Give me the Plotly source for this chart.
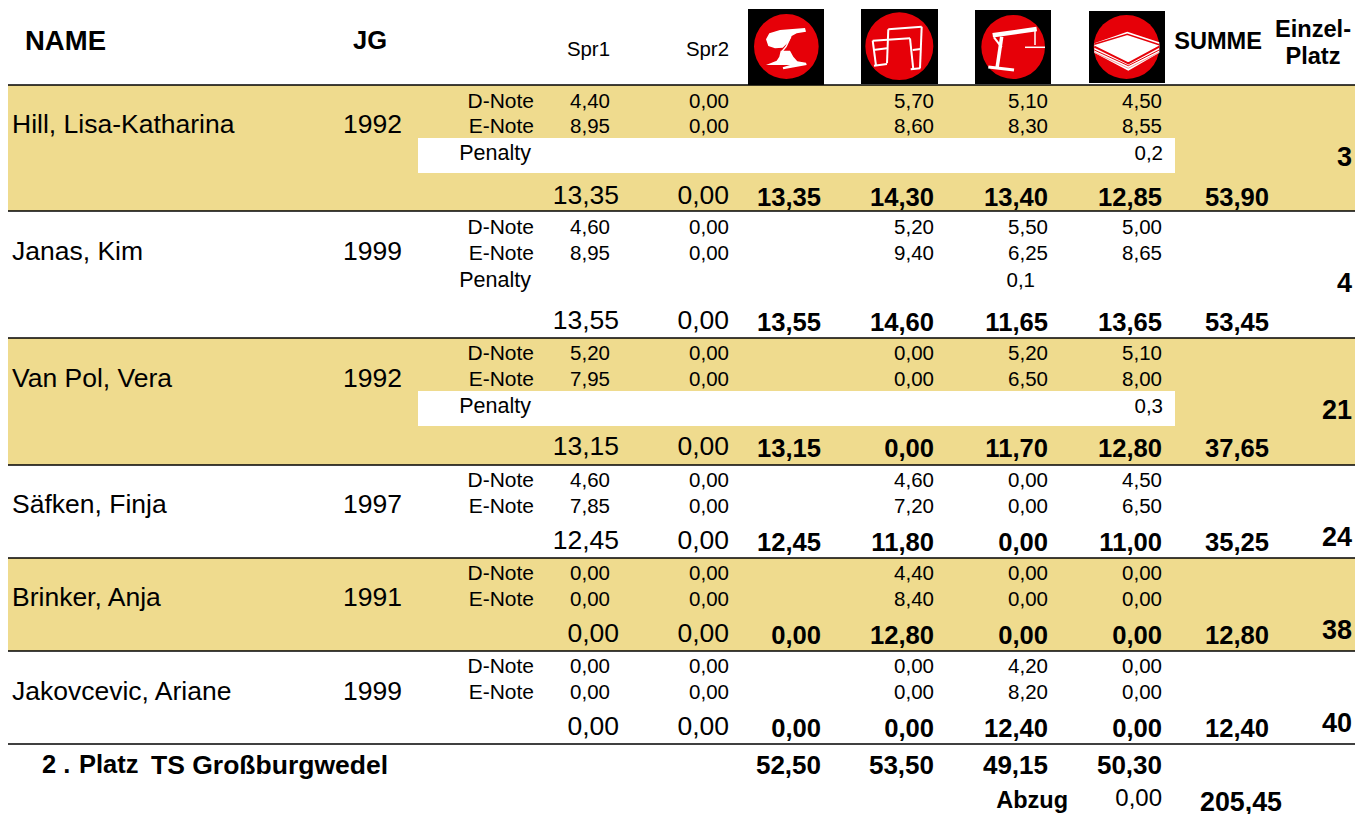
import plotly.graph_objects as go

# ---------- data ----------
names = ["Hill, Lisa-Katharina", "Janas, Kim", "Van Pol, Vera", "Säfken, Finja", "Brinker, Anja", "Jakovcevic, Ariane"]
years = ["1992", "1999", "1992", "1997", "1991", "1999"]
ranks = ["3", "4", "21", "24", "38", "40"]
sums = ["53,90", "53,45", "37,65", "35,25", "12,80", "12,40"]

d_spr1 = ["4,40", "4,60", "5,20", "4,60", "0,00", "0,00"]
d_spr2 = ["0,00", "0,00", "0,00", "0,00", "0,00", "0,00"]
d_bars = ["5,70", "5,20", "0,00", "4,60", "4,40", "0,00"]
d_beam = ["5,10", "5,50", "5,20", "0,00", "0,00", "4,20"]
d_floor = ["4,50", "5,00", "5,10", "4,50", "0,00", "0,00"]

e_spr1 = ["8,95", "8,95", "7,95", "7,85", "0,00", "0,00"]
e_spr2 = ["0,00", "0,00", "0,00", "0,00", "0,00", "0,00"]
e_bars = ["8,60", "9,40", "0,00", "7,20", "8,40", "0,00"]
e_beam = ["8,30", "6,25", "6,50", "0,00", "0,00", "8,20"]
e_floor = ["8,55", "8,65", "8,00", "6,50", "0,00", "0,00"]

t_spr1 = ["13,35", "13,55", "13,15", "12,45", "0,00", "0,00"]
t_spr2 = ["0,00", "0,00", "0,00", "0,00", "0,00", "0,00"]
t_vault = ["13,35", "13,55", "13,15", "12,45", "0,00", "0,00"]
t_bars = ["14,30", "14,60", "0,00", "11,80", "12,80", "0,00"]
t_beam = ["13,40", "11,65", "11,70", "0,00", "0,00", "12,40"]
t_floor = ["12,85", "13,65", "12,80", "11,00", "0,00", "0,00"]

penalty_beam = ["", "0,1", "", "", "", ""]
penalty_floor = ["0,2", "", "0,3", "", "", ""]
team_apparatus = ["52,50", "53,50", "49,15", "50,30"]
team_title = ["2 .", "Platz", "TS Großburgwedel"]
abzug_label = "Abzug"
abzug_value = "0,00"
team_total = "205,45"

# ---------- layout constants ----------
W, H = 1355, 814
FONT = "Liberation Sans"
BAND = "#EFDB8E"
RED = "#E60008"
row_tops = [85, 211, 338, 465, 558, 651, 744]
d_y = [101, 227, 353, 480, 573, 666]
e_y = [126, 253, 379, 506, 599, 692]
p_y = [153, 280, 406]
t_y = [195, 320, 446, 540, 633, 726]
tb_y = [198, 323, 449, 543, 636, 729]
name_y = [124, 251, 378, 504, 597, 691]
rank_y = [157, 283, 410, 537, 630, 723]
X_SPR1, X_SPR2, X_V, X_U, X_B, X_F, X_SUM, X_RANK = 610, 729, 821, 934, 1048, 1162, 1269, 1352
TEXT_DY = 2

fig = go.Figure()


def add_text(xs, ys, texts, size, bold=False, pos="middle left"):
    fig.add_trace(go.Scatter(
        x=xs, y=[y + TEXT_DY for y in ys], text=texts, mode="text", textposition=pos,
        hoverinfo="skip", showlegend=False,
        textfont=dict(family=FONT, size=size, color="#000000",
                      weight="bold" if bold else "normal"),
        cliponaxis=False))


n = len(names)
add_text([12] * n, name_y, names, 26.5, pos="middle right")
add_text([402] * n, name_y, years, 26.5)
add_text([534] * n, d_y, ["D-Note"] * n, 21)
add_text([534] * n, e_y, ["E-Note"] * n, 21)
add_text([531] * 3, p_y, ["Penalty"] * 3, 21.5)

for col_x, d, e in [(X_SPR1, d_spr1, e_spr1), (X_SPR2, d_spr2, e_spr2), (X_U, d_bars, e_bars),
                    (X_B, d_beam, e_beam), (X_F, d_floor, e_floor)]:
    add_text([col_x] * n, d_y, d, 20.5)
    add_text([col_x] * n, e_y, e, 20.5)

add_text([1035] * 3, p_y, penalty_beam[:3], 20.5)
add_text([1163] * 3, p_y, penalty_floor[:3], 20.5)

add_text([X_SPR1 + 9] * n, t_y, t_spr1, 26.5)
add_text([X_SPR2] * n, t_y, t_spr2, 26.5)
for col_x, t in [(X_V, t_vault), (X_U, t_bars), (X_B, t_beam), (X_F, t_floor), (X_SUM, sums)]:
    add_text([col_x] * n, tb_y, t, 25.6, bold=True)
add_text([X_RANK] * n, rank_y, ranks, 27, bold=True)

# header
add_text([25], [41], ["NAME"], 27.5, bold=True, pos="middle right")
add_text([387], [41], ["JG"], 25.5, bold=True)
add_text([X_SPR1, X_SPR2], [49, 49], ["Spr1", "Spr2"], 20.4)
add_text([1262], [41], ["SUMME"], 23.6, bold=True)
add_text([1313, 1313], [29, 56], ["Einzel-", "Platz"], 23.6, bold=True, pos="middle center")

# footer
add_text([42, 79], [765, 765], team_title[:2], 25.5, bold=True, pos="middle right")
add_text([151], [765], team_title[2:], 26.5, bold=True, pos="middle right")
add_text([X_V, X_U, X_B, X_F], [765] * 4, team_apparatus, 26, bold=True)
add_text([1068], [800], [abzug_label], 23.5, bold=True)
add_text([X_F], [798], [abzug_value], 24)
add_text([1282], [802], [team_total], 26.8, bold=True)

# ---------- decoration ----------
shapes = []
for top, bottom in [(85, 211), (338, 465), (558, 651)]:
    shapes.append(dict(type="rect", x0=8, x1=W, y0=top, y1=bottom, fillcolor=BAND, line_width=0, layer="below"))
for top in [138, 391]:
    shapes.append(dict(type="rect", x0=418, x1=1175, y0=top, y1=top + 35, fillcolor="white", line_width=0, layer="below"))
for y in row_tops:
    shapes.append(dict(type="line", x0=8, x1=W, y0=y, y1=y, line=dict(color="black", width=1.5)))


def Z(x, y):
    return 740 + x / 3, y / 3


def path(pts, close=True):
    s = "M " + " L ".join("%.1f %.1f" % Z(*p) for p in pts)
    return s + (" Z" if close else "")


def poly(pts, fill="white"):
    shapes.append(dict(type="path", path=path(pts), fillcolor=fill, line_width=0))


def stroke(pts, width=2, color="white"):
    shapes.append(dict(type="path", path=path(pts, False), line=dict(color=color, width=width)))


def icon(x0, y0, x1, y1, cx0, cy0, cx1, cy1):
    a, b = Z(x0, y0), Z(x1, y1)
    shapes.append(dict(type="rect", x0=a[0], y0=a[1], x1=b[0], y1=b[1], fillcolor="black", line_width=0))
    a, b = Z(cx0, cy0), Z(cx1, cy1)
    shapes.append(dict(type="circle", x0=a[0], y0=a[1], x1=b[0], y1=b[1], fillcolor=RED, line_width=0))


# vault
icon(24, 27, 252, 255, 42, 42, 236, 237)
poly([(78, 118), (88, 100), (120, 90), (195, 84), (198, 95), (170, 100), (155, 108), (146, 125), (128, 143),
      (105, 145), (85, 138)])
stroke([(152, 110), (138, 140), (125, 155)], 1.5)
poly([(122, 152), (150, 152), (160, 170), (172, 184), (198, 188), (200, 195), (130, 208), (128, 202),
      (150, 195), (78, 195), (110, 182), (118, 170)])
# bars
icon(363, 27, 594, 252, 376, 37, 580, 240)
for seg in [[(398, 122), (510, 115)], [(398, 122), (408, 197)], [(510, 115), (520, 208)], [(445, 88), (545, 80)],
            [(445, 88), (441, 190)], [(545, 80), (540, 205)], [(402, 197), (441, 192)], [(512, 208), (541, 205)],
            [(400, 150), (441, 145)], [(518, 150), (542, 147)]]:
    stroke(seg, 2)
# beam
icon(705, 30, 933, 252, 724, 45, 915, 237)
stroke([(758, 106), (890, 87)], 4.5)
stroke([(785, 110), (771, 205)], 3.5)
stroke([(745, 201), (822, 210)], 3)
stroke([(885, 90), (885, 135)], 1.5)
stroke([(855, 142), (915, 142)], 1.5)
stroke([(762, 112), (785, 142)], 2)
# floor
icon(1047, 33, 1275, 249, 1061, 45, 1258, 237)
poly([(1063, 130), (1162, 95), (1258, 127), (1258, 158), (1165, 212), (1063, 158)])
stroke([(1063, 133), (1162, 103), (1258, 134)], 1.5, RED)
stroke([(1063, 140), (1165, 190), (1258, 140)], 2, RED)
stroke([(1063, 150), (1165, 197), (1258, 150)], 1, RED)
stroke([(1063, 157), (1165, 205), (1258, 157)], 1, "#F0A0A0")

fig.update_layout(
    width=W, height=H, margin=dict(l=0, r=0, t=0, b=0),
    paper_bgcolor="white", plot_bgcolor="white", shapes=shapes, showlegend=False,
    xaxis=dict(range=[0, W], visible=False, fixedrange=True),
    yaxis=dict(range=[H, 0], visible=False, fixedrange=True),
)
fig.write_html("out.html", config=dict(displayModeBar=False),
               post_script="document.body.style.margin='0';document.body.style.overflow='hidden';")
